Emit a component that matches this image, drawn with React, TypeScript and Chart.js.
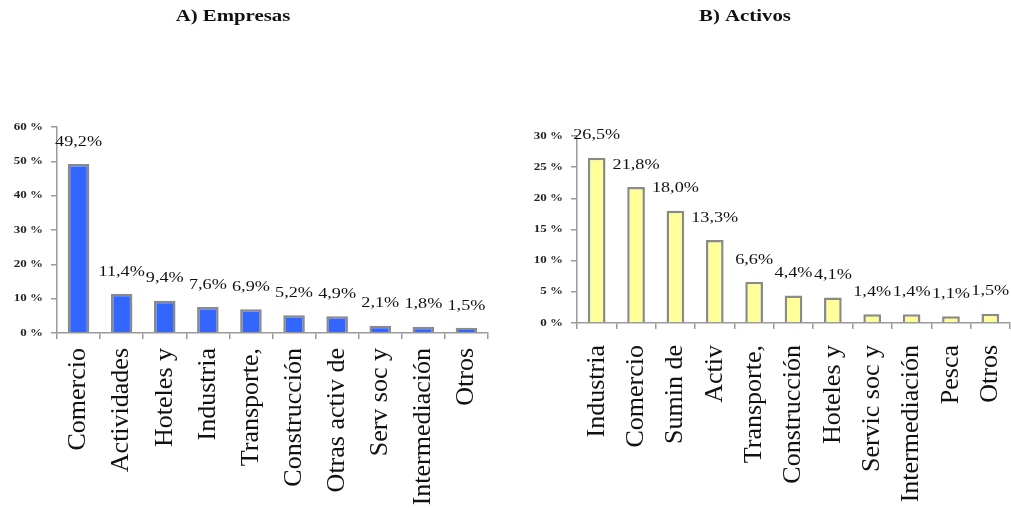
import React, { useEffect, useRef } from "react";
import { Chart, registerables } from "chart.js";

Chart.register(...registerables);

const empresasCategories = [
  "Comercio",
  "Actividades",
  "Hoteles y",
  "Industria",
  "Transporte,",
  "Construcción",
  "Otras activ de",
  "Serv soc y",
  "Intermediación",
  "Otros",
];
const empresasValues = [49.2, 11.4, 9.4, 7.6, 6.9, 5.2, 4.9, 2.1, 1.8, 1.5];

const activosCategories = [
  "Industria",
  "Comercio",
  "Sumin de",
  "Activ",
  "Transporte,",
  "Construcción",
  "Hoteles y",
  "Servic soc y",
  "Intermediación",
  "Pesca",
  "Otros",
];
const activosValues = [26.5, 21.8, 18.0, 13.3, 6.6, 4.4, 4.1, 1.4, 1.4, 1.1, 1.5];

const titleA = "A) Empresas";
const titleB = "B) Activos";

const SERIF = '"Liberation Serif", "Times New Roman", serif';
const STRETCH = 1.3;

type Cfg = {
  title: string;
  titleX: number;
  labels: string[];
  values: number[];
  max: number;
  step: number;
  fill: string;
  barPct: number;
  yWidth: number;
  padTop: number;
  padRight: number;
  xHeight: number;
  xPad: number;
  width: number;
  height: number;
};

function makeOverlay(cfg: Cfg) {
  return {
    id: "overlay",
    afterDraw(chart: any) {
      const ctx = chart.ctx as CanvasRenderingContext2D;
      // title
      ctx.save();
      ctx.font = `bold 16px ${SERIF}`;
      ctx.fillStyle = "#111";
      ctx.textAlign = "center";
      ctx.textBaseline = "middle";
      ctx.translate(cfg.titleX, 17);
      ctx.scale(STRETCH, 1);
      ctx.fillText(cfg.title, 0, 0);
      ctx.restore();

      // y tick labels
      const ys = chart.scales.y;
      ys.ticks.forEach((t: any) => {
        const py = ys.getPixelForValue(t.value);
        ctx.save();
        ctx.font = `bold 10px ${SERIF}`;
        ctx.fillStyle = "#222";
        ctx.textAlign = "right";
        ctx.textBaseline = "middle";
        ctx.translate(ys.right - 14, py);
        ctx.scale(STRETCH, 1);
        ctx.fillText(`${t.value} %`, 0, 0);
        ctx.restore();
      });

      // value labels
      const meta = chart.getDatasetMeta(0);
      meta.data.forEach((bar: any, i: number) => {
        const v = cfg.values[i];
        const txt = v.toFixed(1).replace(".", ",") + "%";
        ctx.save();
        ctx.font = `14px ${SERIF}`;
        ctx.fillStyle = "#111";
        ctx.textAlign = "center";
        ctx.textBaseline = "middle";
        ctx.translate(bar.x, bar.y - 22);
        ctx.scale(STRETCH, 1);
        ctx.fillText(txt, 0, 0);
        ctx.restore();
      });
    },
  };
}

function BarChart({ cfg, left }: { cfg: Cfg; left: number }) {
  const ref = useRef<HTMLCanvasElement | null>(null);
  useEffect(() => {
    if (!ref.current) return;
    const chart = new Chart(ref.current, {
      type: "bar",
      data: {
        labels: cfg.labels,
        datasets: [
          {
            data: cfg.values,
            backgroundColor: cfg.fill,
            borderColor: "#8a8a8a",
            borderWidth: 2.5,
            categoryPercentage: 1,
            barPercentage: cfg.barPct,
          },
        ],
      },
      options: {
        responsive: false,
        animation: false,
        devicePixelRatio: 1,
        layout: {
          padding: { top: cfg.padTop, right: cfg.padRight, left: 0, bottom: 0 },
        },
        plugins: {
          legend: { display: false },
          tooltip: { enabled: false },
          title: { display: false },
        },
        scales: {
          x: {
            grid: {
              display: true,
              drawOnChartArea: false,
              drawTicks: true,
              tickLength: 6,
              color: "#9a9a9a",
              lineWidth: 1.5,
              offset: true,
            },
            border: { display: true, color: "#9a9a9a", width: 1.5 },
            ticks: {
              minRotation: 90,
              maxRotation: 90,
              autoSkip: false,
              padding: cfg.xPad,
              color: "#111",
              font: { family: SERIF, size: 26 },
            },
            afterFit(scale: any) {
              scale.height = cfg.xHeight;
              scale.paddingLeft = 0;
              scale.paddingRight = 0;
            },
          },
          y: {
            min: 0,
            max: cfg.max,
            grid: {
              display: true,
              drawOnChartArea: false,
              drawTicks: true,
              tickLength: 6,
              color: "#9a9a9a",
              lineWidth: 1.5,
            },
            border: { display: true, color: "#9a9a9a", width: 1.5 },
            ticks: {
              stepSize: cfg.step,
              display: false,
            },
            afterFit(scale: any) {
              scale.width = cfg.yWidth;
              scale.paddingTop = 0;
              scale.paddingBottom = 0;
            },
          },
        },
      },
      plugins: [makeOverlay(cfg)],
    });
    return () => chart.destroy();
  }, []);
  return (
    <div style={{ position: "absolute", left, top: 0, width: cfg.width, height: cfg.height }}>
      <canvas ref={ref} width={cfg.width} height={cfg.height} style={{ width: cfg.width, height: cfg.height, display: "block" }} />
    </div>
  );
}

const cfgA: Cfg = {
  title: titleA,
  titleX: 233,
  labels: empresasCategories,
  values: empresasValues,
  max: 60,
  step: 10,
  fill: "#3366ff",
  barPct: 0.5,
  yWidth: 57,
  padTop: 127,
  padRight: 12,
  xHeight: 175,
  xPad: 9,
  width: 500,
  height: 508,
};

const cfgB: Cfg = {
  title: titleB,
  titleX: 745 - 505,
  labels: activosCategories,
  values: activosValues,
  max: 30,
  step: 5,
  fill: "#ffff99",
  barPct: 0.45,
  yWidth: 72,
  padTop: 136,
  padRight: 1,
  xHeight: 185,
  xPad: 16,
  width: 506,
  height: 508,
};

export default function App() {
  return (
    <div style={{ position: "absolute", left: 0, top: 0, width: 1011, height: 508, background: "#fff" }}>
      <BarChart cfg={cfgA} left={0} />
      <BarChart cfg={cfgB} left={505} />
    </div>
  );
}
